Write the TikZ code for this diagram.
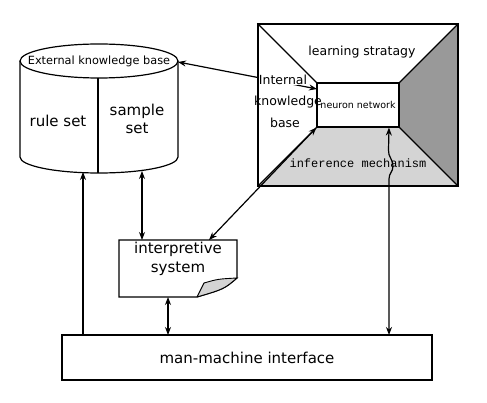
\documentclass[tikz,border=0pt]{standalone}
\usepackage{fontspec}
\setmainfont{DejaVu Sans}
\newfontfamily\monofont{Liberation Mono}
\usetikzlibrary{arrows.meta}
\definecolor{darkside}{HTML}{999999}
\definecolor{lightside}{HTML}{D4D4D4}
\begin{document}
\begin{tikzpicture}[x=1pt,y=-1pt,line width=1.2pt,
  tip/.style={Stealth[length=8pt,width=6pt]},
  arr/.style={-{Stealth[length=8pt,width=6pt]}},
  darr/.style={{Stealth[length=8pt,width=6pt]}-{Stealth[length=8pt,width=6pt]}},
  txt/.style={inner sep=0pt,align=center},
  big/.style={txt,font=\fontsize{15}{18.5}\selectfont},
  mid/.style={txt,font=\fontsize{12.5}{15}\selectfont},
  small/.style={txt,font=\fontsize{11.3}{13}\selectfont},
  tiny/.style={txt,font=\fontsize{9.5}{11}\selectfont},
  mono/.style={txt,font=\monofont\fontsize{12}{14}\selectfont}]
\useasboundingbox (0,0) rectangle (487,403);

% ---------- cylinder (external knowledge base) ----------
\draw[fill=white] (20,61) -- (20,157) arc[start angle=180,end angle=0,x radius=79,y radius=16] -- (178,61);
\draw[fill=white] (99,61) ellipse[x radius=79,y radius=17];
\draw (98,78) -- (98,173);
\node[small] (ekb) at (99,61) {External knowledge base};
\node[big] (rule) at (58,121) {rule set};
\node[big] (sample) at (137,119) {sample\\set};
\coordinate (cylR) at (178,62);
\coordinate (cylB1) at (83,172);
\coordinate (cylB2) at (142,171);

% ---------- learning box ----------
\fill[darkside] (399,83) -- (458,24) -- (458,186) -- (399,127) -- cycle;
\fill[lightside] (317,127) -- (399,127) -- (458,186) -- (258,186) -- cycle;
\node[draw,minimum width=200,minimum height=162,inner sep=0pt] (lk) at (358,105) {};
\node[draw,fill=white,minimum width=82,minimum height=44,tiny] (nn) at (358,105) {neuron network};
\draw (lk.north west) -- (nn.north west);
\draw (lk.north east) -- (nn.north east);
\draw (lk.south east) -- (nn.south east);
\draw (lk.south west) -- (nn.south west);
\node[mid] (ls) at (362,52) {learning stratagy};
\node[mono] (inf) at (358,163) {inference mechanism};
\coordinate (nnL) at (317,89);

% ---------- interpretive system ----------
\draw[fill=white] (119,240) -- (237,240) -- (237,278) .. controls (224,289) .. (197,297) -- (119,297) -- cycle;
\draw[fill=lightside,line width=0.9pt] (197,297) .. controls (200,290) .. (204,283) .. controls (218,279) .. (237,278) .. controls (224,289) .. (197,297);
\node[big] (is) at (178,259) {interpretive\\system};
\coordinate (isT1) at (142,240);
\coordinate (isT2) at (209,240);
\coordinate (isB) at (168,297);

% ---------- man-machine interface ----------
\node[draw,minimum width=370,minimum height=45,big] (mmi) at (247,357.5) {man-machine interface};
\coordinate (mmiT1) at (83,335);
\coordinate (mmiT2) at (168,335);
\coordinate (mmiT3) at (389,335);

% ---------- connectors ----------
\draw[darr] (cylR) -- (nnL);
\node[mid,fill=white] (ikb1) at (283,80) {Internal};
\node[mid] (ikb2) at (288,102) {knowledge};
\node[mid] (ikb3) at (285,123) {base};
\draw[darr] (nn.south west) -- (isT2);
\draw[darr] (cylB2) -- (isT1);
\draw[arr] (mmiT1) -- (cylB1);
\draw[darr] (isB) -- (mmiT2);
\draw[darr] (mmiT3) -- (389,179) .. controls (389,173) and (393,172) .. (393,166)
   .. controls (393,159) and (388,157) .. (388.5,150) -- (nn.south -| mmiT3);
\end{tikzpicture}
\end{document}
